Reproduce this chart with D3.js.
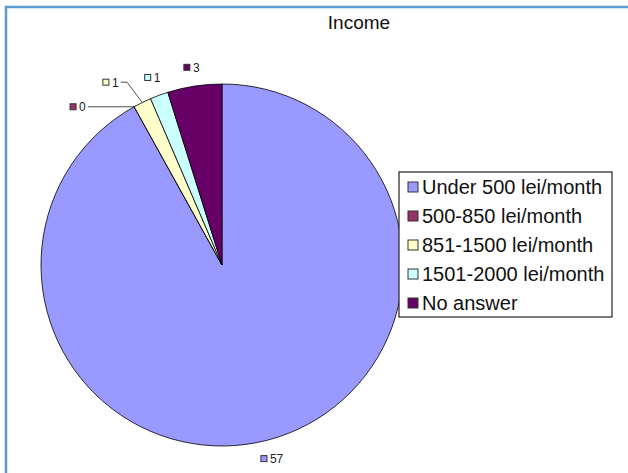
<!DOCTYPE html>
<html>
<head>
<meta charset="utf-8">
<script src="https://cdn.jsdelivr.net/npm/d3@7"></script>
<style>
  body { margin: 0; background: #fff; }
  text { font-family: "Liberation Sans", Arial, sans-serif; }
</style>
</head>
<body>
<div id="chart"></div>
<script>
// data
const chartTitle = "Income";
const categories = ["Under 500 lei/month", "500-850 lei/month", "851-1500 lei/month", "1501-2000 lei/month", "No answer"];
const values = [57, 0, 1, 1, 3];
const colors = ["#9999FF", "#993366", "#FFFFCC", "#CCFFFF", "#660066"];

const width = 628, height = 473;
const cx = 222, cy = 265, radius = 181;

const svg = d3.select("#chart")
  .append("svg")
    .attr("width", width)
    .attr("height", height);

// blue frame (top and left edges only)
svg.append("path")
  .attr("d", `M6,${height} L6,7 L${width},7`)
  .attr("fill", "none")
  .attr("stroke", "#5b9bd5")
  .attr("stroke-width", 2.5);

// title
svg.append("text")
  .attr("x", 359)
  .attr("y", 29)
  .attr("text-anchor", "middle")
  .attr("font-size", "19px")
  .attr("fill", "#111")
  .text(chartTitle);

const data = categories.map((c, i) => ({ name: c, value: values[i], color: colors[i] }));

const pie = d3.pie().sort(null).value(d => d.value);
const arcs = pie(data);
const arc = d3.arc().innerRadius(0).outerRadius(radius);

const g = svg.append("g").attr("transform", `translate(${cx},${cy})`);

g.selectAll("path.slice")
  .data(arcs)
  .join("path")
    .attr("class", "slice")
    .attr("d", arc)
    .attr("fill", d => d.data.color)
    .attr("stroke", "#000")
    .attr("stroke-width", 0.8);

// label angles: walk counterclockwise from the top and push crowded labels apart
const gap = 11 * Math.PI / 180;
const labels = arcs.map(d => ({ d: d, a: (d.startAngle + d.endAngle) / 2, moved: false }));
let prev = null;
for (let i = labels.length - 1; i >= 0; i--) {
  const l = labels[i];
  if (prev !== null && prev - l.a < gap) { l.a = prev - gap; l.moved = true; }
  prev = l.a;
}

labels.forEach(l => {
  const r = l.moved ? 214 : 200;
  const px = Math.sin(l.a) * r, py = -Math.cos(l.a) * r;
  const lg = g.append("g");
  const sw = lg.append("rect")
    .attr("width", 6).attr("height", 6)
    .attr("fill", l.d.data.color)
    .attr("stroke", "#333").attr("stroke-width", 1);
  const t = lg.append("text")
    .attr("font-size", "12px")
    .attr("fill", "#222")
    .text(l.d.data.value);
  const tw = t.node().getComputedTextLength();
  const w = 6 + 3 + tw;
  const x0 = px - w / 2;
  sw.attr("x", x0).attr("y", py - 3);
  t.attr("x", x0 + 9).attr("y", py + 4.5);

  if (l.moved) {
    const mid = (l.d.startAngle + l.d.endAngle) / 2;
    const ax = Math.sin(mid) * radius, ay = -Math.cos(mid) * radius;
    const sx = x0 + w + 2, sy = py;
    const ex = Math.max(sx + 6, ax - 0.75 * Math.abs(ay - sy));
    g.append("path")
      .attr("d", `M${sx},${sy} L${ex},${sy} L${ax},${ay}`)
      .attr("fill", "none")
      .attr("stroke", "#222")
      .attr("stroke-width", 0.8);
  }
});

// legend
const legend = svg.append("g");
legend.append("rect")
  .attr("x", 399).attr("y", 172)
  .attr("width", 213).attr("height", 145)
  .attr("fill", "#fff")
  .attr("stroke", "#222")
  .attr("stroke-width", 1.2);

const rowY = d3.scalePoint().domain(categories).range([187, 303]);
const rows = legend.selectAll("g.row")
  .data(data)
  .join("g")
    .attr("class", "row")
    .attr("transform", d => `translate(0,${rowY(d.name)})`);
rows.append("rect")
  .attr("x", 408).attr("y", -5)
  .attr("width", 10).attr("height", 10)
  .attr("fill", d => d.color)
  .attr("stroke", "#333").attr("stroke-width", 1);
rows.append("text")
  .attr("x", 422).attr("y", 7)
  .attr("font-size", "20px")
  .attr("fill", "#111")
  .text(d => d.name);
</script>
</body>
</html>
